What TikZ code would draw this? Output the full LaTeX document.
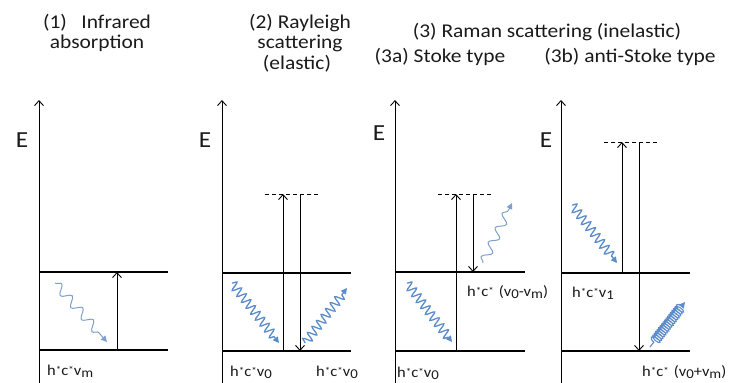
\documentclass[tikz,border=0pt]{standalone}
\usepackage{fontspec}
\setmainfont{Carlito}[FakeStretch=1.1]
\usetikzlibrary{arrows.meta,decorations.pathmorphing}
\definecolor{photblue}{HTML}{5B8BC8}
\definecolor{photlight}{HTML}{7FA0CC}
\definecolor{txt}{HTML}{1A1A1A}
\newcommand\myst{\raisebox{0.2ex}{\fontsize{10}{10}\selectfont *}}
\newcommand\mysub[1]{\raisebox{-0.35ex}{\fontsize{13.5}{14}\selectfont #1}}
\begin{document}
\begin{tikzpicture}[x=1pt,y=-1pt,
  title/.style={anchor=base,inner sep=0pt,text=txt,font=\fontsize{19.5}{22}\selectfont},
  elabel/.style={anchor=center,inner sep=0pt,text=txt,font=\fontsize{23}{26}\selectfont},
  lvlabel/.style={anchor=base west,inner sep=0pt,text=txt,font=\fontsize{15}{17}\selectfont},
  level/.style={line width=2.4pt},
  axisline/.style={line width=0.9pt,-{Straight Barb[length=5pt,width=9pt]}},
  trans/.style={line width=0.9pt,-{Straight Barb[length=5pt,width=9pt]}},
  virt/.style={line width=0.9pt,dash pattern=on 4pt off 3pt},
  photon/.style={draw=photblue,line width=1.3pt,decorate,
    decoration={snake,amplitude=4.5pt,segment length=7.5pt,post length=5pt},
    -{Triangle[length=6pt,width=6pt]}},
  loosephoton/.style={draw=photlight,line width=1pt,decorate,
    decoration={snake,amplitude=4.5pt,segment length=16pt,post length=5pt},
    -{Triangle[length=6pt,width=6pt]}},
  coilphoton/.style={draw=photblue,line width=1.1pt,decorate,
    decoration={coil,amplitude=5pt,segment length=2.4pt,aspect=0.4,pre length=6pt,post length=5pt},
    -{Triangle[length=6pt,width=6pt]}},
]
\useasboundingbox (0,0) rectangle (732,383);

% ---------- titles ----------
\node[title] (t1a) at (97,28) {(1)\ \ \ Infrared};
\node[title] (t1b) at (97,48) {absorption};
\node[title] (t2a) at (300,28) {(2) Rayleigh};
\node[title] (t2b) at (300,48) {scattering};
\node[title] (t2c) at (297,69) {(elastic)};
\node[title] (t3) at (547,37) {(3) Raman scattering (inelastic)};
\node[title] (t3a) at (440,62) {(3a) Stoke type};
\node[title] (t3b) at (630,62) {(3b) anti-Stoke type};

% ---------- panel 1 ----------
\coordinate (a1b) at (39,383); \coordinate (a1t) at (39,100);
\coordinate (u1l) at (39,272); \coordinate (u1r) at (168,272);
\coordinate (g1l) at (39,350); \coordinate (g1r) at (168,350);
\coordinate (r1b) at (117,350); \coordinate (r1t) at (117,272);
\coordinate (p1s) at (55,283); \coordinate (p1e) at (107,342);
\draw[axisline] (a1b) -- (a1t);
\draw[level] (u1l) -- (u1r);
\draw[level] (g1l) -- (g1r);
\draw[trans] (r1b) -- (r1t);
\draw[loosephoton] (p1s) -- (p1e);
\node[elabel] (e1) at (22,140) {E};
\node[lvlabel] (l1) at (47,375) {h\myst c\myst v\mysub{m}};

% ---------- panel 2 ----------
\coordinate (a2b) at (222,383); \coordinate (a2t) at (222,100);
\coordinate (u2l) at (222,273); \coordinate (u2r) at (351,273);
\coordinate (g2l) at (222,351); \coordinate (g2r) at (351,351);
\coordinate (v2l) at (265,194); \coordinate (v2r) at (318,194);
\coordinate (r2ub) at (283,351); \coordinate (r2ut) at (283,194);
\coordinate (r2dt) at (300,194); \coordinate (r2db) at (300,351);
\coordinate (p2as) at (232,283); \coordinate (p2ae) at (279,343);
\coordinate (p2bs) at (305,343); \coordinate (p2be) at (347,288);
\draw[axisline] (a2b) -- (a2t);
\draw[level] (u2l) -- (u2r);
\draw[level] (g2l) -- (g2r);
\draw[virt] (v2l) -- (v2r);
\draw[trans] (r2ub) -- (r2ut);
\draw[trans] (r2dt) -- (r2db);
\draw[photon] (p2as) -- (p2ae);
\draw[photon] (p2bs) -- (p2be);
\node[elabel] (e2) at (205,140) {E};
\node[lvlabel] (l2a) at (230,376) {h\myst c\myst v\mysub{0}};
\node[lvlabel] (l2b) at (316,376) {h\myst c\myst v\mysub{0}};

% ---------- panel 3 ----------
\coordinate (a3b) at (395,383); \coordinate (a3t) at (395,100);
\coordinate (u3l) at (395,272); \coordinate (u3r) at (525,272);
\coordinate (g3l) at (395,351); \coordinate (g3r) at (525,351);
\coordinate (v3l) at (438,194); \coordinate (v3r) at (492,194);
\coordinate (r3ub) at (456,351); \coordinate (r3ut) at (456,194);
\coordinate (r3dt) at (473,194); \coordinate (r3db) at (473,272);
\coordinate (p3as) at (407,283); \coordinate (p3ae) at (452,342);
\coordinate (p3bs) at (483,263); \coordinate (p3be) at (512,203);
\draw[axisline] (a3b) -- (a3t);
\draw[level] (u3l) -- (u3r);
\draw[level] (g3l) -- (g3r);
\draw[virt] (v3l) -- (v3r);
\draw[trans] (r3ub) -- (r3ut);
\draw[trans] (r3dt) -- (r3db);
\draw[photon] (p3as) -- (p3ae);
\draw[loosephoton] (p3bs) -- (p3be);
\node[elabel] (e3) at (379,133) {E};
\node[lvlabel] (l3a) at (467,296) {h\myst c\myst\hspace{5pt}(v\mysub{0}-v\mysub{m})};
\node[lvlabel] (l3b) at (397,377) {h\myst c\myst v\mysub{0}};

% ---------- panel 4 ----------
\coordinate (a4b) at (561,383); \coordinate (a4t) at (561,100);
\coordinate (u4l) at (561,273); \coordinate (u4r) at (690,273);
\coordinate (g4l) at (561,351); \coordinate (g4r) at (690,351);
\coordinate (v4l) at (604,142); \coordinate (v4r) at (657,142);
\coordinate (r4ub) at (622,273); \coordinate (r4ut) at (622,142);
\coordinate (r4dt) at (639,142); \coordinate (r4db) at (639,351);
\coordinate (p4as) at (572,205); \coordinate (p4ae) at (617,263);
\coordinate (p4bs) at (650,347); \coordinate (p4be) at (685,302);
\draw[axisline] (a4b) -- (a4t);
\draw[level] (u4l) -- (u4r);
\draw[level] (g4l) -- (g4r);
\draw[virt] (v4l) -- (v4r);
\draw[trans] (r4ub) -- (r4ut);
\draw[trans] (r4dt) -- (r4db);
\draw[photon] (p4as) -- (p4ae);
\draw[coilphoton] (p4bs) -- (p4be);
\node[elabel] (e4) at (546,140) {E};
\node[lvlabel] (l4a) at (572,297) {h\myst c\myst v\mysub{1}};
\node[lvlabel] (l4b) at (642,376) {h\myst c\myst\hspace{5pt}(v\mysub{0}+v\mysub{m})};
\end{tikzpicture}
\end{document}
